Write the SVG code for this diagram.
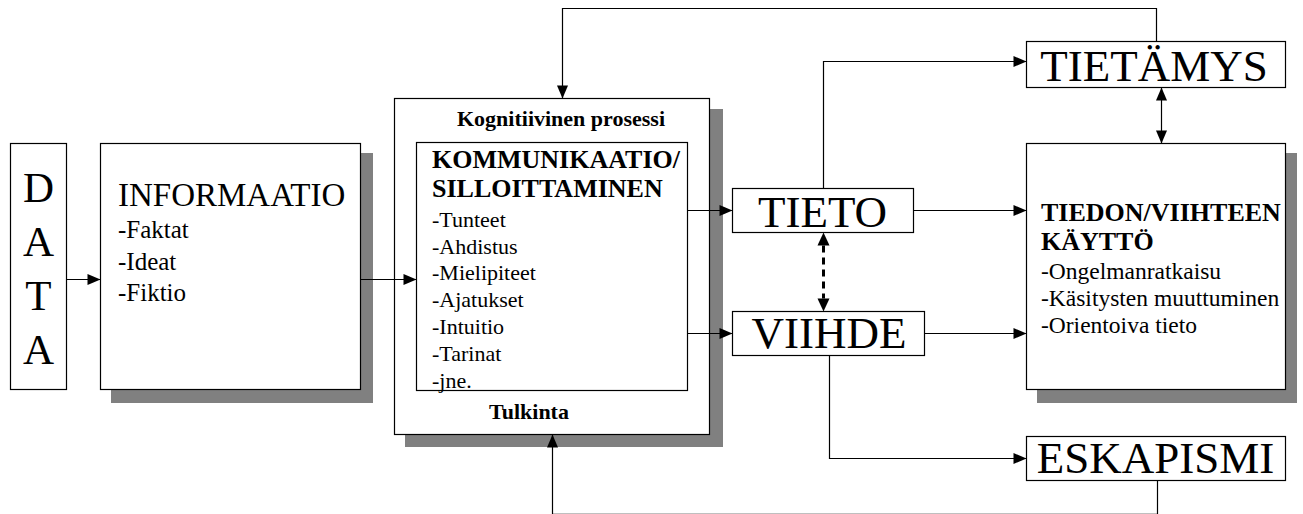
<svg xmlns="http://www.w3.org/2000/svg" width="1303" height="514" viewBox="0 0 1303 514">
<defs>
<style>
text{font-family:"Liberation Serif","Times New Roman",serif;fill:#000}
.box{fill:#fff;stroke:#000;stroke-width:1.2}
.shadow{fill:#808080;stroke:none}
.big{font-size:45px}
.data{font-size:43px;text-anchor:middle}
.bold26{font-size:26px;font-weight:bold}
.bold22{font-size:22px;font-weight:bold;text-anchor:middle}
.li22{font-size:22px}
.li23{font-size:23.5px}
.li25{font-size:25px}
.mid{text-anchor:middle}
.conn{fill:none;stroke:#000;stroke-width:1.2}
.dash{fill:none;stroke:#000;stroke-width:3;stroke-dasharray:7 5}
</style>
<marker id="arr" markerUnits="userSpaceOnUse" markerWidth="13" markerHeight="11" refX="13" refY="5.5" orient="auto-start-reverse" overflow="visible">
<path d="M0,0 L13,5.5 L0,11 z" fill="#000" stroke="none"/>
</marker>
<marker id="arrB" markerUnits="userSpaceOnUse" markerWidth="13" markerHeight="12" refX="0" refY="6" orient="auto-start-reverse" overflow="visible">
<path d="M0,0 L13,6 L0,12 z" fill="#000" stroke="none"/>
</marker>
</defs>
<rect width="1303" height="514" fill="#fff"/>

<g id="data">
<rect class="box" x="10.5" y="143.5" width="56" height="246"/>
<text class="data" x="38.5" y="201.5">D</text>
<text class="data" x="38.5" y="256">A</text>
<text class="data" x="38.5" y="310">T</text>
<text class="data" x="38.5" y="363.5">A</text>
</g>

<g id="informaatio">
<rect class="shadow" x="111" y="153" width="262" height="250"/>
<rect class="box" x="100.5" y="143.5" width="260" height="246"/>
<text x="118" y="206" style="font-size:33px">INFORMAATIO</text>
<text class="li25" x="118" y="238">-Faktat</text>
<text class="li25" x="118" y="270">-Ideat</text>
<text class="li25" x="118" y="301">-Fiktio</text>
</g>

<g id="kognitiivinen">
<rect class="shadow" x="405" y="109" width="318" height="338"/>
<rect class="box" x="394.5" y="98.5" width="315" height="336"/>
<text class="bold22" x="561" y="126">Kognitiivinen prosessi</text>
<text class="bold22" x="529" y="419">Tulkinta</text>
</g>

<g id="kommunikaatio">
<rect class="box" x="416.5" y="142.5" width="271" height="248"/>
<text class="bold26" x="432" y="168">KOMMUNIKAATIO/</text>
<text class="bold26" x="432" y="197">SILLOITTAMINEN</text>
<text class="li22" x="432" y="226.7">-Tunteet</text>
<text class="li22" x="432" y="253.5">-Ahdistus</text>
<text class="li22" x="432" y="280.3">-Mielipiteet</text>
<text class="li22" x="432" y="307">-Ajatukset</text>
<text class="li22" x="432" y="334">-Intuitio</text>
<text class="li22" x="432" y="360.7">-Tarinat</text>
<text class="li22" x="432" y="387.5">-jne.</text>
</g>

<g id="tieto">
<rect class="box" x="732.5" y="188.5" width="181" height="44"/>
<text class="big mid" x="822.5" y="227.3">TIETO</text>
</g>

<g id="viihde">
<rect class="box" x="732.5" y="311.5" width="192" height="44"/>
<text class="big mid" x="829" y="348.3">VIIHDE</text>
</g>

<g id="tietamys">
<rect class="box" x="1026.5" y="41.5" width="259" height="46"/>
<text class="big mid" x="1154" y="81">TIETÄMYS</text>
</g>

<g id="kaytto">
<rect class="shadow" x="1037" y="153" width="260" height="250"/>
<rect class="box" x="1026.5" y="143.5" width="259" height="246"/>
<text class="bold26" x="1041" y="221">TIEDON/VIIHTEEN</text>
<text class="bold26" x="1041" y="250">KÄYTTÖ</text>
<text class="li23" x="1041" y="279">-Ongelmanratkaisu</text>
<text class="li23" x="1041" y="306">-Käsitysten muuttuminen</text>
<text class="li23" x="1041" y="333">-Orientoiva tieto</text>
</g>

<g id="eskapismi">
<rect class="box" x="1026.5" y="436.5" width="259" height="44"/>
<text class="big mid" x="1155.5" y="472.7">ESKAPISMI</text>
</g>

<g id="connectors">
<path class="conn" d="M66.5,279.5 H100.5" marker-end="url(#arr)"/>
<path class="conn" d="M360.5,279.5 H416.5" marker-end="url(#arr)"/>
<path class="conn" d="M687.5,210.5 H732.5" marker-end="url(#arr)"/>
<path class="conn" d="M687.5,333.5 H732.5" marker-end="url(#arr)"/>
<path class="conn" d="M913.5,210.5 H1026.5" marker-end="url(#arr)"/>
<path class="conn" d="M924.5,333.5 H1026.5" marker-end="url(#arr)"/>
<path class="conn" d="M823.5,188.5 V61.5 H1026.5" marker-end="url(#arr)"/>
<path class="dash" d="M823.5,245.5 V298.5" marker-start="url(#arrB)" marker-end="url(#arrB)"/>
<path class="conn" d="M1161.5,87.5 V143.5" marker-start="url(#arr)" marker-end="url(#arr)"/>
<path class="conn" d="M829.5,355.5 V458.5 H1026.5" marker-end="url(#arr)"/>
<path class="conn" d="M1156.5,41.5 V8.5 H562.5 V98.5" marker-end="url(#arr)"/>
<path class="conn" d="M1157.5,480.5 V514.3 H552.5 V434.5" marker-end="url(#arr)"/>
</g>
</svg>
